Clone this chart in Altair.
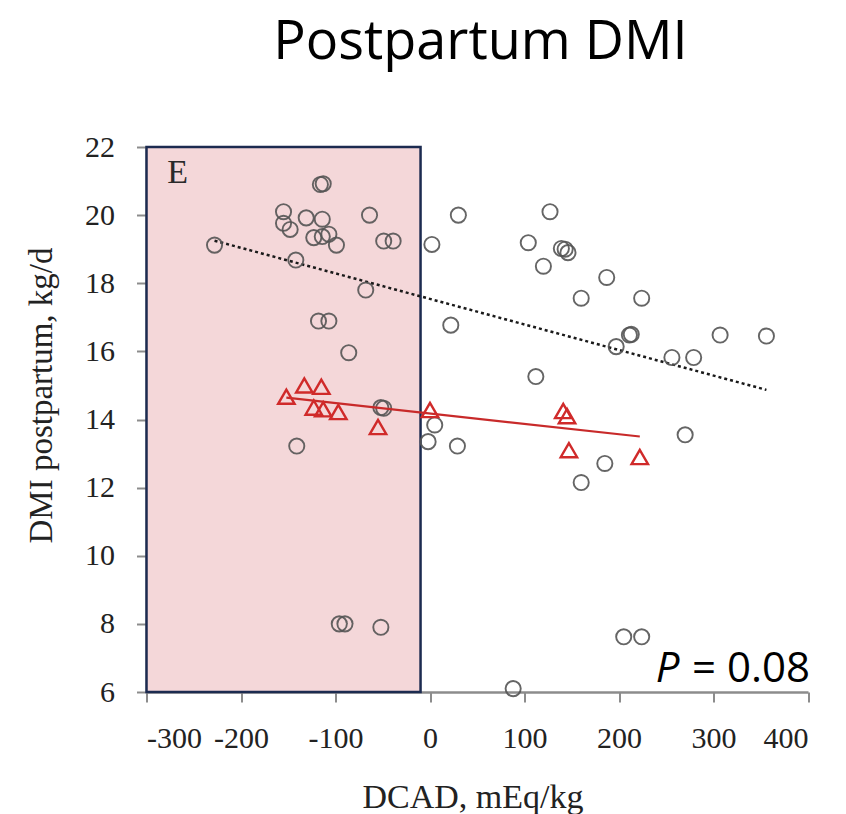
import altair as alt
import pandas as pd

# Open circles (black series)
circle_x = [-228, -155, -155, -148, -131, -116, -113, -114, -123, -114, -107, -99, -64, -49, -39,
            -142, -68, -118, -107, -86, -52, -49, -141, -96, -90, -52,
            2, 30, 104, 127, 139, 143, 146, 120, 187, 160, 224, 22, 197, 211, 213, 307, 356,
            256, 279, 112, 5, -2, 29, 270, 185, 160, 88, 205, 224]
circle_y = [19.12, 20.10, 19.76, 19.58, 19.92, 20.90, 20.92, 19.88, 19.34, 19.37, 19.44, 19.12, 20.0, 19.24, 19.24,
            18.68, 17.8, 16.89, 16.89, 15.96, 14.35, 14.33, 13.22, 8.0, 8.0, 7.9,
            19.14, 20.0, 19.19, 20.1, 19.02, 19.0, 18.9, 18.5, 18.17, 17.56, 17.56, 16.77, 16.14, 16.48, 16.5, 16.48, 16.45,
            15.82, 15.82, 15.26, 13.84, 13.35, 13.22, 13.55, 12.71, 12.15, 6.1, 7.62, 7.62]

# Open triangles (red series)
tri_x = [-152, -133, -115, -123, -113, -97, -55, 0, 141, 145, 147, 222]
tri_y = [14.67, 15.0, 14.96, 14.35, 14.3, 14.22, 13.78, 14.28, 14.25, 14.1, 13.1, 12.9]

# Regression lines
black_fit_x = [-228, 356]
black_fit_y = [19.25, 14.87]
red_fit_x = [-152, 222]
red_fit_y = [14.64, 13.50]

# Shaded zone
zone_x = [-300]
zone_x2 = [-10]
zone_y = [6]
zone_y2 = [22]

x_ticks = [-300, -200, -100, 0, 100, 200, 300, 400]
y_ticks = [6, 8, 10, 12, 14, 16, 18, 20, 22]

circles = pd.DataFrame({"x": circle_x, "y": circle_y})
tris = pd.DataFrame({"x": tri_x, "y": tri_y})
bfit = pd.DataFrame({"x": black_fit_x, "y": black_fit_y})
rfit = pd.DataFrame({"x": red_fit_x, "y": red_fit_y})
zone = pd.DataFrame({"x": zone_x, "x2": zone_x2, "y": zone_y, "y2": zone_y2})
label_e = pd.DataFrame({"x": [-278], "y": [20.94], "t": ["E"]})
label_p = pd.DataFrame({"x": [400], "y": [6.29], "t": ["= 0.08"]})
label_pi = pd.DataFrame({"x": [260], "y": [6.29], "t": ["P"]})

xs = alt.Scale(domain=[-300, 400], nice=False, zero=False)
ys = alt.Scale(domain=[6, 22], nice=False, zero=False)

axis_common = dict(
    grid=False, domainColor="#8c8c8c", domainWidth=2.5, tickColor="#8c8c8c", tickWidth=2,
    tickSize=10, labelFont="Liberation Serif", labelFontSize=30, labelColor="#222222",
    titleFont="Liberation Serif", titleFontWeight="normal", titleColor="#222222",
    labelExpr="'' + datum.value",
)
xaxis = alt.Axis(values=x_ticks, title="DCAD, mEq/kg", labelPadding=21, titleFontSize=34,
                 titleX=326, titleY=115, titleBaseline="alphabetic", titleAlign="center",
                 **axis_common)
yaxis = alt.Axis(values=y_ticks, title="DMI postpartum, kg/d", labelPadding=22, titleFontSize=33,
                 titleX=-95, titleY=248, titleBaseline="alphabetic", titleAlign="center", titleAngle=270,
                 **axis_common)

X = alt.X("x:Q", scale=xs, axis=xaxis)
Y = alt.Y("y:Q", scale=ys, axis=yaxis)

rect = alt.Chart(zone).mark_rect(fill="#f4d7d9", stroke="#1c2b50", strokeWidth=2.5).encode(
    x=X, x2="x2:Q", y=Y, y2="y2:Q")

bline = alt.Chart(bfit).mark_line(color="#1a1a1a", strokeWidth=2.5, strokeDash=[3, 3]).encode(x=X, y=Y)

pts = alt.Chart(circles).mark_point(shape="circle", filled=False, color="#555555", strokeWidth=1.9,
                                     size=230, opacity=0.9).encode(x=X, y=Y)

rline = alt.Chart(rfit).mark_line(color="#c82a2a", strokeWidth=2.2).encode(x=X, y=Y)

tri = alt.Chart(tris).mark_point(shape="triangle-up", filled=False, color="#d02a2a", strokeWidth=2.4,
                                  size=270, opacity=1).encode(x=X, y=Y)

e_txt = alt.Chart(label_e).mark_text(font="Liberation Serif", fontSize=34, align="left",
                                     baseline="alphabetic", color="#2a2a2a").encode(x=X, y=Y, text="t:N")

p_txt = alt.Chart(label_p).mark_text(font="Open Sans", fontSize=42, align="right", dx=2,
                                     baseline="alphabetic", color="black").encode(x=X, y=Y, text="t:N")
pi_txt = alt.Chart(label_pi).mark_text(font="Open Sans", fontSize=42, align="left", dx=-20,
                                       fontStyle="italic", baseline="alphabetic", color="black").encode(
    x=X, y=Y, text="t:N")

title_txt = alt.Chart(pd.DataFrame({"t": ["Postpartum DMI"]})).mark_text(
    font="Open Sans", fontSize=54, align="center", baseline="alphabetic", color="black"
).encode(x=alt.value(334), y=alt.value(-88), text="t:N")

chart = alt.layer(rect, bline, pts, rline, tri, e_txt, p_txt, pi_txt, title_txt).properties(
    width=661.5, height=545,
    background="white",
    autosize=alt.AutoSizeParams(type="none"),
    padding={"left": 138.5, "top": 139, "right": 20, "bottom": 122},
).configure_view(stroke="transparent", strokeWidth=0)

chart.save("out.html", embed_options={"renderer": "svg", "actions": False})
